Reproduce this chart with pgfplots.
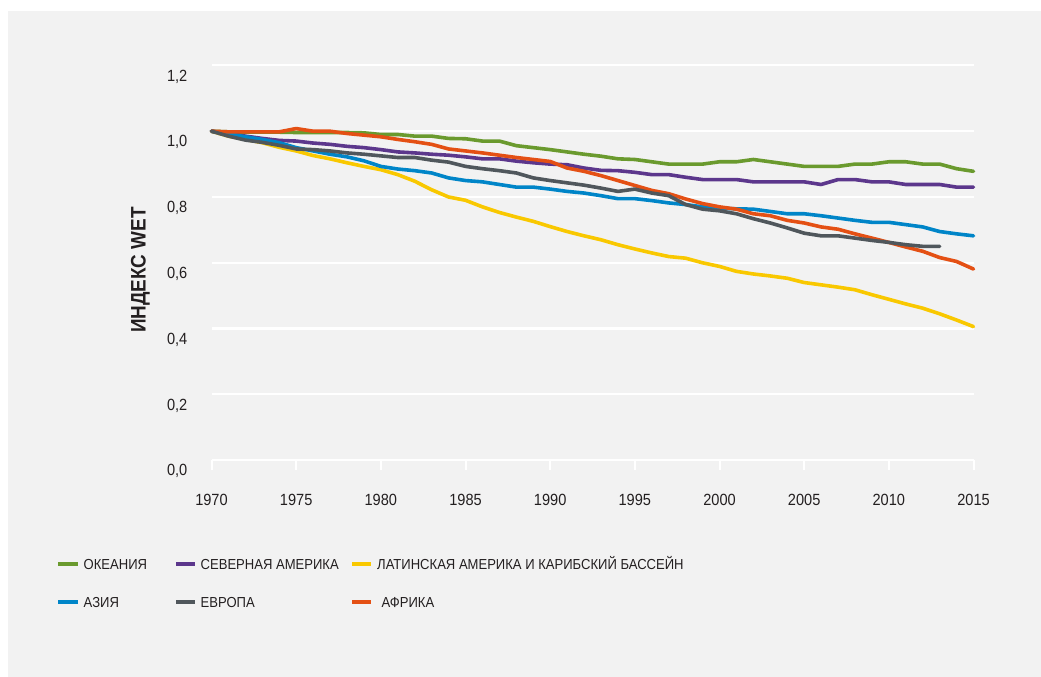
\documentclass[border=0pt]{standalone}
\usepackage{fontspec}
\setmainfont{Liberation Sans}[FakeStretch=0.9]
\usepackage{pgfplots}
\usepackage{pgfplotstable}
\pgfplotsset{compat=1.18}
\definecolor{bgg}{HTML}{F2F2F2}
\definecolor{txt}{HTML}{231F20}
\definecolor{cgreen}{HTML}{6A9A2E}
\definecolor{cpurple}{HTML}{5C378C}
\definecolor{cyellow}{HTML}{F9C800}
\definecolor{cblue}{HTML}{0085C8}
\definecolor{cgray}{HTML}{50575C}
\definecolor{corange}{HTML}{E45014}
\pgfplotstableread{
year oce nam lat asia eur afr
1970 1.000 1.000 1.000 1.000 1.000 1.000
1971 0.998 0.993 0.985 0.992 0.985 0.998
1972 0.997 0.985 0.975 0.983 0.973 0.998
1973 0.997 0.978 0.965 0.975 0.966 0.998
1974 0.997 0.972 0.951 0.965 0.957 0.998
1975 0.996 0.970 0.940 0.950 0.946 1.008
1976 0.996 0.964 0.926 0.940 0.944 1.000
1977 0.996 0.960 0.916 0.930 0.940 1.000
1978 0.996 0.954 0.904 0.922 0.934 0.993
1979 0.995 0.950 0.893 0.910 0.930 0.988
1980 0.990 0.944 0.883 0.893 0.925 0.983
1981 0.990 0.937 0.868 0.885 0.920 0.975
1982 0.985 0.934 0.848 0.880 0.920 0.968
1983 0.985 0.930 0.822 0.873 0.912 0.960
1984 0.978 0.927 0.800 0.858 0.906 0.946
1985 0.977 0.922 0.790 0.850 0.893 0.940
1986 0.970 0.916 0.770 0.846 0.886 0.934
1987 0.970 0.916 0.753 0.838 0.880 0.927
1988 0.956 0.909 0.739 0.830 0.873 0.920
1989 0.950 0.904 0.726 0.830 0.858 0.914
1990 0.944 0.900 0.710 0.824 0.850 0.908
1991 0.937 0.898 0.695 0.817 0.843 0.888
1992 0.930 0.888 0.682 0.812 0.836 0.878
1993 0.924 0.881 0.670 0.804 0.827 0.865
1994 0.916 0.880 0.655 0.795 0.817 0.850
1995 0.914 0.875 0.642 0.795 0.824 0.835
1996 0.907 0.868 0.630 0.789 0.812 0.820
1997 0.900 0.868 0.619 0.782 0.804 0.810
1998 0.900 0.860 0.614 0.777 0.777 0.794
1999 0.900 0.853 0.600 0.770 0.763 0.780
2000 0.907 0.853 0.589 0.766 0.758 0.770
2001 0.907 0.853 0.574 0.764 0.749 0.763
2002 0.914 0.846 0.566 0.763 0.734 0.749
2003 0.907 0.846 0.560 0.756 0.721 0.743
2004 0.900 0.846 0.553 0.749 0.706 0.729
2005 0.893 0.846 0.540 0.749 0.690 0.721
2006 0.893 0.838 0.533 0.743 0.682 0.709
2007 0.893 0.853 0.526 0.736 0.682 0.702
2008 0.900 0.853 0.518 0.729 0.675 0.688
2009 0.900 0.846 0.503 0.723 0.668 0.675
2010 0.907 0.846 0.489 0.723 0.662 0.662
2011 0.907 0.838 0.475 0.716 0.655 0.648
2012 0.900 0.838 0.462 0.709 0.650 0.635
2013 0.900 0.838 0.445 0.695 0.650 0.616
2014 0.886 0.830 0.426 0.688 nan 0.604
2015 0.878 0.830 0.406 0.682 nan 0.581
}\wetdata
\begin{document}
\begin{tikzpicture}
\fill[white] (0,0) rectangle (1041pt,677pt);
\fill[bgg] (8pt,0) rectangle (1041pt,666pt);
\begin{axis}[
  at={(211.5pt,216.8pt)}, anchor=south west,
  scale only axis, width=762pt, height=394.8pt,
  xmin=1970, xmax=2015, ymin=0, ymax=1.2,
  axis line style={draw=none},
  xtick={1970,1975,...,2015},
  xticklabels={1970,1975,1980,1985,1990,1995,2000,2005,2010,2015},
  ytick={0,0.2,0.4,0.6,0.8,1.0,1.2},
  yticklabels={{0,0},{0,2},{0,4},{0,6},{0,8},{1,0},{1,2}},
  xtick pos=bottom, tick align=outside,
  major tick length=10pt,
  xtick style={white, line width=2pt},
  ytick style={draw=none},
  ymajorgrids, grid style={white, line width=2.2pt},
  ticklabel style={text=txt, font=\fontsize{16.2}{19}\selectfont},
  xticklabel style={anchor=base, inner sep=0pt, yshift=-35pt},
  yticklabel style={anchor=base east, inner sep=0pt, xshift=-14pt, yshift=-15.7pt},
  clip=false,
  every axis plot/.append style={line width=3.6pt, line join=round, line cap=round},
  unbounded coords=jump,
]
\addplot[cyellow, no markers] table[x=year, y=lat] {\wetdata};
\addplot[cgreen, no markers] table[x=year, y=oce] {\wetdata};
\addplot[cpurple, no markers] table[x=year, y=nam] {\wetdata};
\addplot[cblue, no markers] table[x=year, y=asia] {\wetdata};
\addplot[corange, no markers] table[x=year, y=afr] {\wetdata};
\addplot[cgray, no markers] table[x=year, y=eur] {\wetdata};
\end{axis}
\node[rotate=90, text=txt, font=\fontsize{21}{24}\selectfont\bfseries] at (140.5pt,407pt) {ИНДЕКС WET};
\begin{scope}[line width=3.6pt]
\draw[cgreen] (58pt,113pt) -- (78pt,113pt);
\draw[cpurple] (176pt,113pt) -- (195pt,113pt);
\draw[cyellow] (352pt,113pt) -- (371pt,113pt);
\draw[cblue] (58pt,75pt) -- (78pt,75pt);
\draw[cgray] (176pt,75pt) -- (195pt,75pt);
\draw[corange] (352pt,75pt) -- (371pt,75pt);
\end{scope}
\begin{scope}[every node/.style={anchor=base west, inner sep=0pt, text=txt, font=\fontsize{14.5}{17}\selectfont}]
\node at (83.5pt,107pt) {ОКЕАНИЯ};
\node at (200.5pt,107pt) {СЕВЕРНАЯ АМЕРИКА};
\node at (377pt,107pt) {ЛАТИНСКАЯ АМЕРИКА И КАРИБСКИЙ БАССЕЙН};
\node at (83.5pt,69pt) {АЗИЯ};
\node at (200.5pt,69pt) {ЕВРОПА};
\node at (381.5pt,69pt) {АФРИКА};
\end{scope}
\end{tikzpicture}
\end{document}
